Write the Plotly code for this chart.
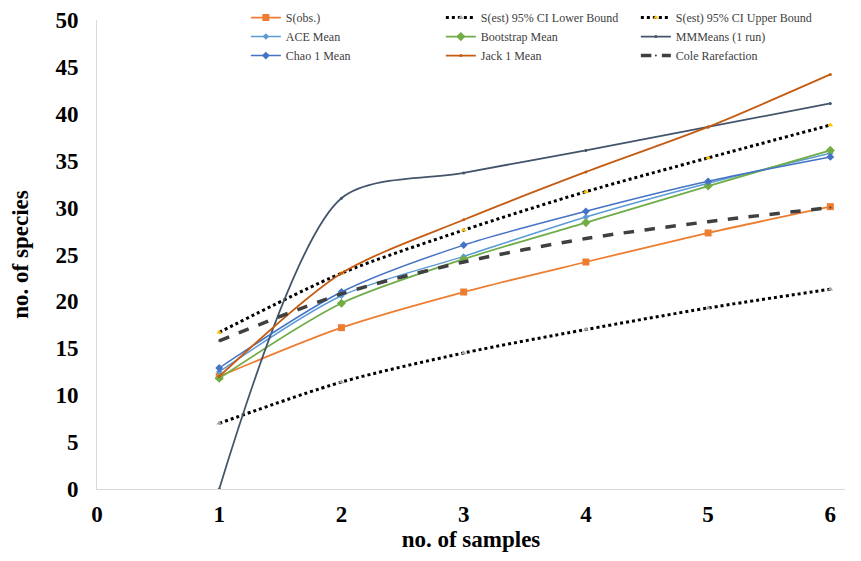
import plotly.graph_objects as go

samples = [1, 2, 3, 4, 5, 6]
s_obs = [12.0, 17.2, 21.0, 24.2, 27.3, 30.1]
ci_lower = [7.0, 11.4, 14.5, 17.0, 19.3, 21.3]
ci_upper = [16.7, 23.0, 27.6, 31.7, 35.3, 38.8]
ace_mean = [12.5, 20.6, 24.8, 29.0, 32.6, 35.8]
bootstrap_mean = [11.8, 19.8, 24.5, 28.4, 32.3, 36.1]
mm_means = [0.0, 31.0, 33.7, 36.1, 38.6, 41.1]
chao1_mean = [12.9, 21.0, 26.0, 29.6, 32.8, 35.4]
jack1_mean = [12.0, 23.0, 28.7, 33.8, 38.6, 44.2]
cole_rarefaction = [15.8, 20.8, 24.2, 26.7, 28.5, 30.0]

x_ticks = [0, 1, 2, 3, 4, 5, 6]
y_ticks = [0, 5, 10, 15, 20, 25, 30, 35, 40, 45, 50]

fig = go.Figure()

def add(name, y, color, width=1.5, dash="solid", symbol="circle", msize=5, mcolor=None):
    fig.add_trace(go.Scatter(
        x=samples, y=y, name=name, mode="lines+markers",
        line=dict(color=color, width=width, dash=dash, shape="spline", smoothing=0.8),
        marker=dict(symbol=symbol, size=msize, color=mcolor or color),
    ))

add("S(obs.)", s_obs, "#ED7D31", width=1.8, symbol="square", msize=7)
add("S(est) 95% CI Lower Bound", ci_lower, "#000000", width=3, dash="dot", symbol="triangle-up", msize=5, mcolor="#A5A5A5")
add("S(est) 95% CI Upper Bound", ci_upper, "#000000", width=3, dash="dot", symbol="triangle-up", msize=5, mcolor="#FFC000")
add("ACE Mean", ace_mean, "#5B9BD5", width=1.5, symbol="diamond", msize=5)
add("Bootstrap Mean", bootstrap_mean, "#70AD47", width=1.8, symbol="diamond", msize=7)
add("MMMeans (1 run)", mm_means, "#44546A", width=1.8, msize=3)
add("Chao 1 Mean", chao1_mean, "#4472C4", width=1.5, symbol="diamond", msize=6)
add("Jack 1 Mean", jack1_mean, "#C55A11", width=1.8, msize=3)
add("Cole Rarefaction", cole_rarefaction, "#404040", width=3.5, dash="dash", symbol="circle", msize=2)

tickfont = dict(family="Liberation Serif", size=23, color="#000000")
titlefont = dict(family="Liberation Serif", size=23, color="#000000")

fig.update_layout(
    width=861, height=561,
    margin=dict(l=97, r=16, t=20, b=72, autoexpand=False),
    plot_bgcolor="white", paper_bgcolor="white",
    showlegend=True,
    legend=dict(
        orientation="h", x=0.199, y=1.036, xanchor="left", yanchor="top",
        entrywidth=150, entrywidthmode="pixels",
        font=dict(family="Liberation Serif", size=12, color="#404040"),
        bgcolor="rgba(255,255,255,0)", itemwidth=30, tracegroupgap=0,
    ),
    xaxis=dict(
        range=[0, 6.12], tickvals=x_ticks, ticktext=[f"<b>{v}</b>" for v in x_ticks],
        showgrid=False, zeroline=False, showline=True, linecolor="#D9D9D9", linewidth=1,
        ticks="", tickfont=tickfont, ticklabelstandoff=4,
        title=dict(text="<b>no. of samples</b>", font=titlefont, standoff=2),
    ),
    yaxis=dict(
        range=[0, 50], tickvals=y_ticks, ticktext=[f"<b>{v}</b>" for v in y_ticks],
        showgrid=False, zeroline=False, showline=True, linecolor="#D9D9D9", linewidth=1,
        ticks="", tickfont=tickfont, ticklabelstandoff=13,
        title=dict(text="<b>no. of species</b>", font=titlefont, standoff=20),
    ),
)

fig.write_html("out.html", config={"displayModeBar": False},
               post_script="document.body.style.margin='0';")
